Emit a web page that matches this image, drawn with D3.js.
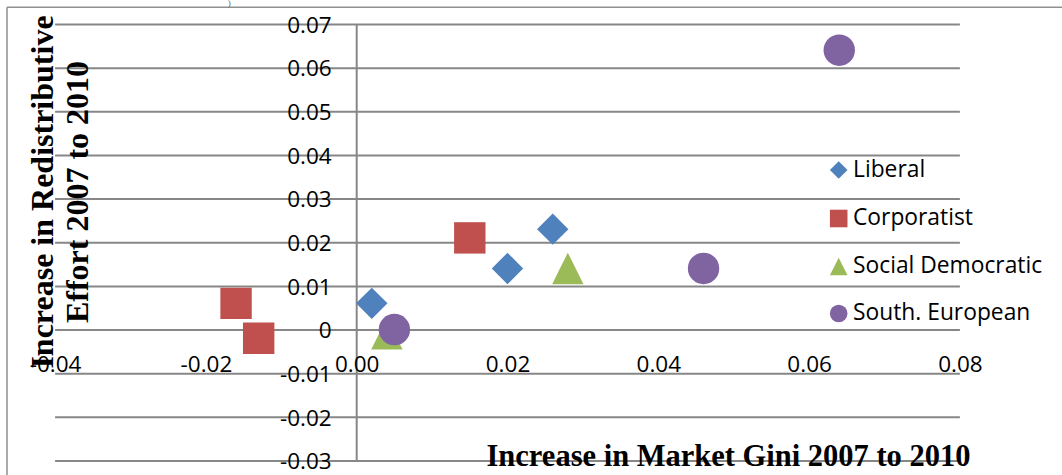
<!DOCTYPE html>
<html>
<head>
<meta charset="utf-8">
<script src="https://cdn.jsdelivr.net/npm/d3@7"></script>
<style>
  html, body { margin: 0; padding: 0; background: #fff; }
  svg { display: block; }
</style>
</head>
<body>
<script>
// Welfare-regime groups and their (market Gini change, redistributive effort change)
const categories = ["Liberal", "Corporatist", "Social Democratic", "South. European"];
const colors = ["#4F81BD", "#C0504D", "#9BBB59", "#8064A2"];
const shapes = ["diamond", "square", "triangle", "circle"];

const liberalX = [0.002, 0.020, 0.026];
const liberalY = [0.006, 0.014, 0.023];
const corporatistX = [-0.016, -0.013, 0.015];
const corporatistY = [0.006, -0.002, 0.021];
const socialDemX = [0.004, 0.028];
const socialDemY = [-0.001, 0.014];
const southEuroX = [0.005, 0.046, 0.064];
const southEuroY = [0.000, 0.014, 0.064];

const xTicks = [-0.04, -0.02, 0, 0.02, 0.04, 0.06, 0.08];
const xTickLabels = ["-0.04", "-0.02", "0.00", "0.02", "0.04", "0.06", "0.08"];
const yTicks = [-0.03, -0.02, -0.01, 0, 0.01, 0.02, 0.03, 0.04, 0.05, 0.06, 0.07];
const yTickLabels = ["-0.03", "-0.02", "-0.01", "0", "0.01", "0.02", "0.03", "0.04", "0.05", "0.06", "0.07"];

const xTitle = "Increase in Market Gini 2007 to 2010";
const yTitleLines = ["Increase in Redistributive", "Effort 2007 to 2010"];

const W = 1062, H = 475;
const tickFont = "'Open Sans', 'Noto Sans', sans-serif";
const titleFont = "'Liberation Serif', 'Times New Roman', serif";

const svg = d3.select("body").append("svg").attr("width", W).attr("height", H);

const x = d3.scaleLinear().domain([-0.04, 0.08]).range([55.1, 959.9]);
const y = d3.scaleLinear().domain([-0.03, 0.07]).range([460.5, 24]);

// chart frame (top and left edges visible)
svg.append("line").attr("x1", 7).attr("x2", W).attr("y1", 7.3).attr("y2", 7.3)
  .attr("stroke", "#8f8f8f").attr("stroke-width", 1.5);
svg.append("line").attr("x1", 7).attr("x2", 7).attr("y1", 7.3).attr("y2", H)
  .attr("stroke", "#8f8f8f").attr("stroke-width", 1.5);

// caption fragment above the frame
svg.append("text").attr("x", 228).attr("y", 6).text(")")
  .attr("font-family", titleFont).attr("font-size", 8).attr("fill", "#555");

// horizontal gridlines
const grid = svg.append("g").attr("transform", `translate(${x(-0.04)},0)`)
  .call(d3.axisRight(y).tickValues(yTicks).tickSize(x(0.08) - x(-0.04)).tickFormat(""));
grid.select(".domain").remove();
grid.selectAll("line").attr("stroke", "#878787").attr("stroke-width", 2);

// vertical axis line at x = 0
svg.append("line")
  .attr("x1", x(0)).attr("x2", x(0)).attr("y1", y(0.07)).attr("y2", y(-0.03))
  .attr("stroke", "#878787").attr("stroke-width", 2);

// y tick labels
const yAxis = svg.append("g").attr("transform", `translate(${x(0)},0)`)
  .call(d3.axisLeft(y).tickValues(yTicks).tickSize(0).tickPadding(25)
    .tickFormat((d, i) => yTickLabels[i]));
yAxis.select(".domain").remove();
yAxis.selectAll("text").attr("font-family", tickFont).attr("font-size", 22.5)
  .attr("fill", "#000").attr("dy", "0.37em");

// x tick labels
const xAxis = svg.append("g").attr("transform", `translate(0,${y(0)})`)
  .call(d3.axisBottom(x).tickValues(xTicks).tickSize(0).tickPadding(26.5)
    .tickFormat((d, i) => xTickLabels[i]));
xAxis.select(".domain").remove();
xAxis.selectAll("text").attr("font-family", tickFont).attr("font-size", 22.5)
  .attr("fill", "#000");

// axis titles
svg.append("text").attr("x", 728.5).attr("y", 466).attr("text-anchor", "middle")
  .attr("font-family", titleFont).attr("font-weight", "bold").attr("font-size", 30.5)
  .attr("fill", "#000").text(xTitle);

const yt = svg.append("text").attr("transform", "translate(0,192) rotate(-90)")
  .attr("text-anchor", "middle").attr("font-family", titleFont)
  .attr("font-weight", "bold").attr("font-size", 32).attr("fill", "#000");
yt.append("tspan").attr("x", 0).attr("y", 52.5).text(yTitleLines[0]);
yt.append("tspan").attr("x", 0).attr("y", 88).text(yTitleLines[1]);

// marker path generator, r = half of marker extent
function markerPath(shape, r) {
  switch (shape) {
    case "diamond": return `M0,${-r}L${r},0L0,${r}L${-r},0Z`;
    case "square": return `M${-r},${-r}H${r}V${r}H${-r}Z`;
    case "triangle": return `M0,${-r}L${r},${r}L${-r},${r}Z`;
    default: return `M${r},0A${r},${r} 0 1,1 ${-r},0A${r},${r} 0 1,1 ${r},0Z`;
  }
}

const seriesX = [liberalX, corporatistX, socialDemX, southEuroX];
const seriesY = [liberalY, corporatistY, socialDemY, southEuroY];

categories.forEach((name, s) => {
  const pts = seriesX[s].map((v, i) => [v, seriesY[s][i]]);
  svg.append("g").selectAll("path").data(pts).join("path")
    .attr("transform", d => `translate(${x(d[0])},${y(d[1])})`)
    .attr("d", markerPath(shapes[s], 15.7))
    .attr("fill", colors[s]);
});

// legend
const legendY = [170, 218.5, 266.5, 313.5];
const legend = svg.append("g");
categories.forEach((name, s) => {
  legend.append("path")
    .attr("transform", `translate(838.7,${legendY[s]})`)
    .attr("d", markerPath(shapes[s], 8.8))
    .attr("fill", colors[s]);
  legend.append("text").attr("x", 853).attr("y", legendY[s] + 6.8)
    .attr("font-family", tickFont).attr("font-size", 22.8).attr("fill", "#000")
    .text(name);
});
</script>
</body>
</html>
